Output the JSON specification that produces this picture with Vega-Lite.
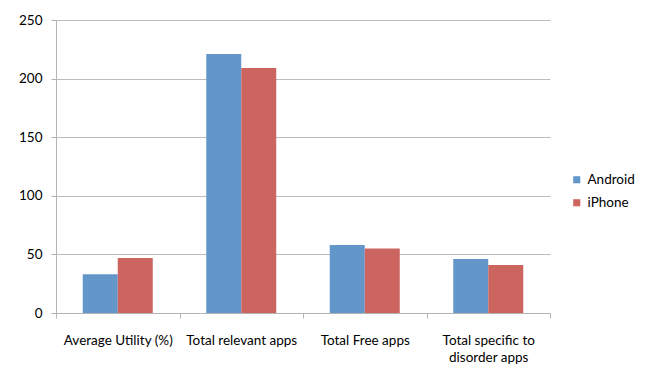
{
  "$schema": "https://vega.github.io/schema/vega-lite/v6.json",
  "autosize": "none",
  "width": 494,
  "height": 293,
  "padding": {"left": 56, "top": 20, "right": 106, "bottom": 71},
  "background": "white",
  "data": {"values": [
    {"category": "Average Utility (%)", "device": "Android", "value": 33},
    {"category": "Average Utility (%)", "device": "iPhone", "value": 47},
    {"category": "Total relevant apps", "device": "Android", "value": 221},
    {"category": "Total relevant apps", "device": "iPhone", "value": 209},
    {"category": "Total Free apps", "device": "Android", "value": 58},
    {"category": "Total Free apps", "device": "iPhone", "value": 55},
    {"category": "Total specific to disorder apps", "device": "Android", "value": 46},
    {"category": "Total specific to disorder apps", "device": "iPhone", "value": 41}
  ]},
  "mark": {"type": "bar"},
  "encoding": {
    "x": {
      "field": "category", "type": "nominal", "sort": null,
      "scale": {"paddingInner": 0, "paddingOuter": 0},
      "axis": {
        "title": null, "labelAngle": 0, "tickBand": "extent",
        "domainColor": "#b4b4b4", "tickColor": "#b4b4b4", "tickSize": 5,
        "labelFont": "Lato", "labelFontSize": 13.5, "labelColor": "#000000",
        "labelPadding": 15, "labelLineHeight": 17, "labelBaseline": "top",
        "labelExpr": "datum.label == 'Total specific to disorder apps' ? ['Total specific to', 'disorder apps'] : datum.label"
      }
    },
    "xOffset": {"field": "device", "type": "nominal", "scale": {"paddingOuter": 0.764, "paddingInner": 0}},
    "y": {
      "field": "value", "type": "quantitative",
      "scale": {"domain": [0, 250]},
      "axis": {
        "title": null, "values": [0, 50, 100, 150, 200, 250],
        "gridColor": "#bdbdbd", "domainColor": "#b4b4b4", "tickColor": "#b4b4b4", "tickSize": 5,
        "labelFont": "Lato", "labelFontSize": 13.5, "labelColor": "#000000", "labelPadding": 9
      }
    },
    "color": {
      "field": "device", "type": "nominal",
      "scale": {"domain": ["Android", "iPhone"], "range": ["#6397CA", "#CC655F"]},
      "legend": {
        "title": null, "orient": "none", "legendX": 514, "legendY": 153,
        "symbolType": "square", "symbolSize": 50, "symbolStrokeWidth": 0,
        "labelFont": "Lato", "labelFontSize": 13.5, "labelColor": "#000000",
        "rowPadding": 8, "labelOffset": 4
      }
    }
  },
  "config": {"view": {"stroke": null}}
}
